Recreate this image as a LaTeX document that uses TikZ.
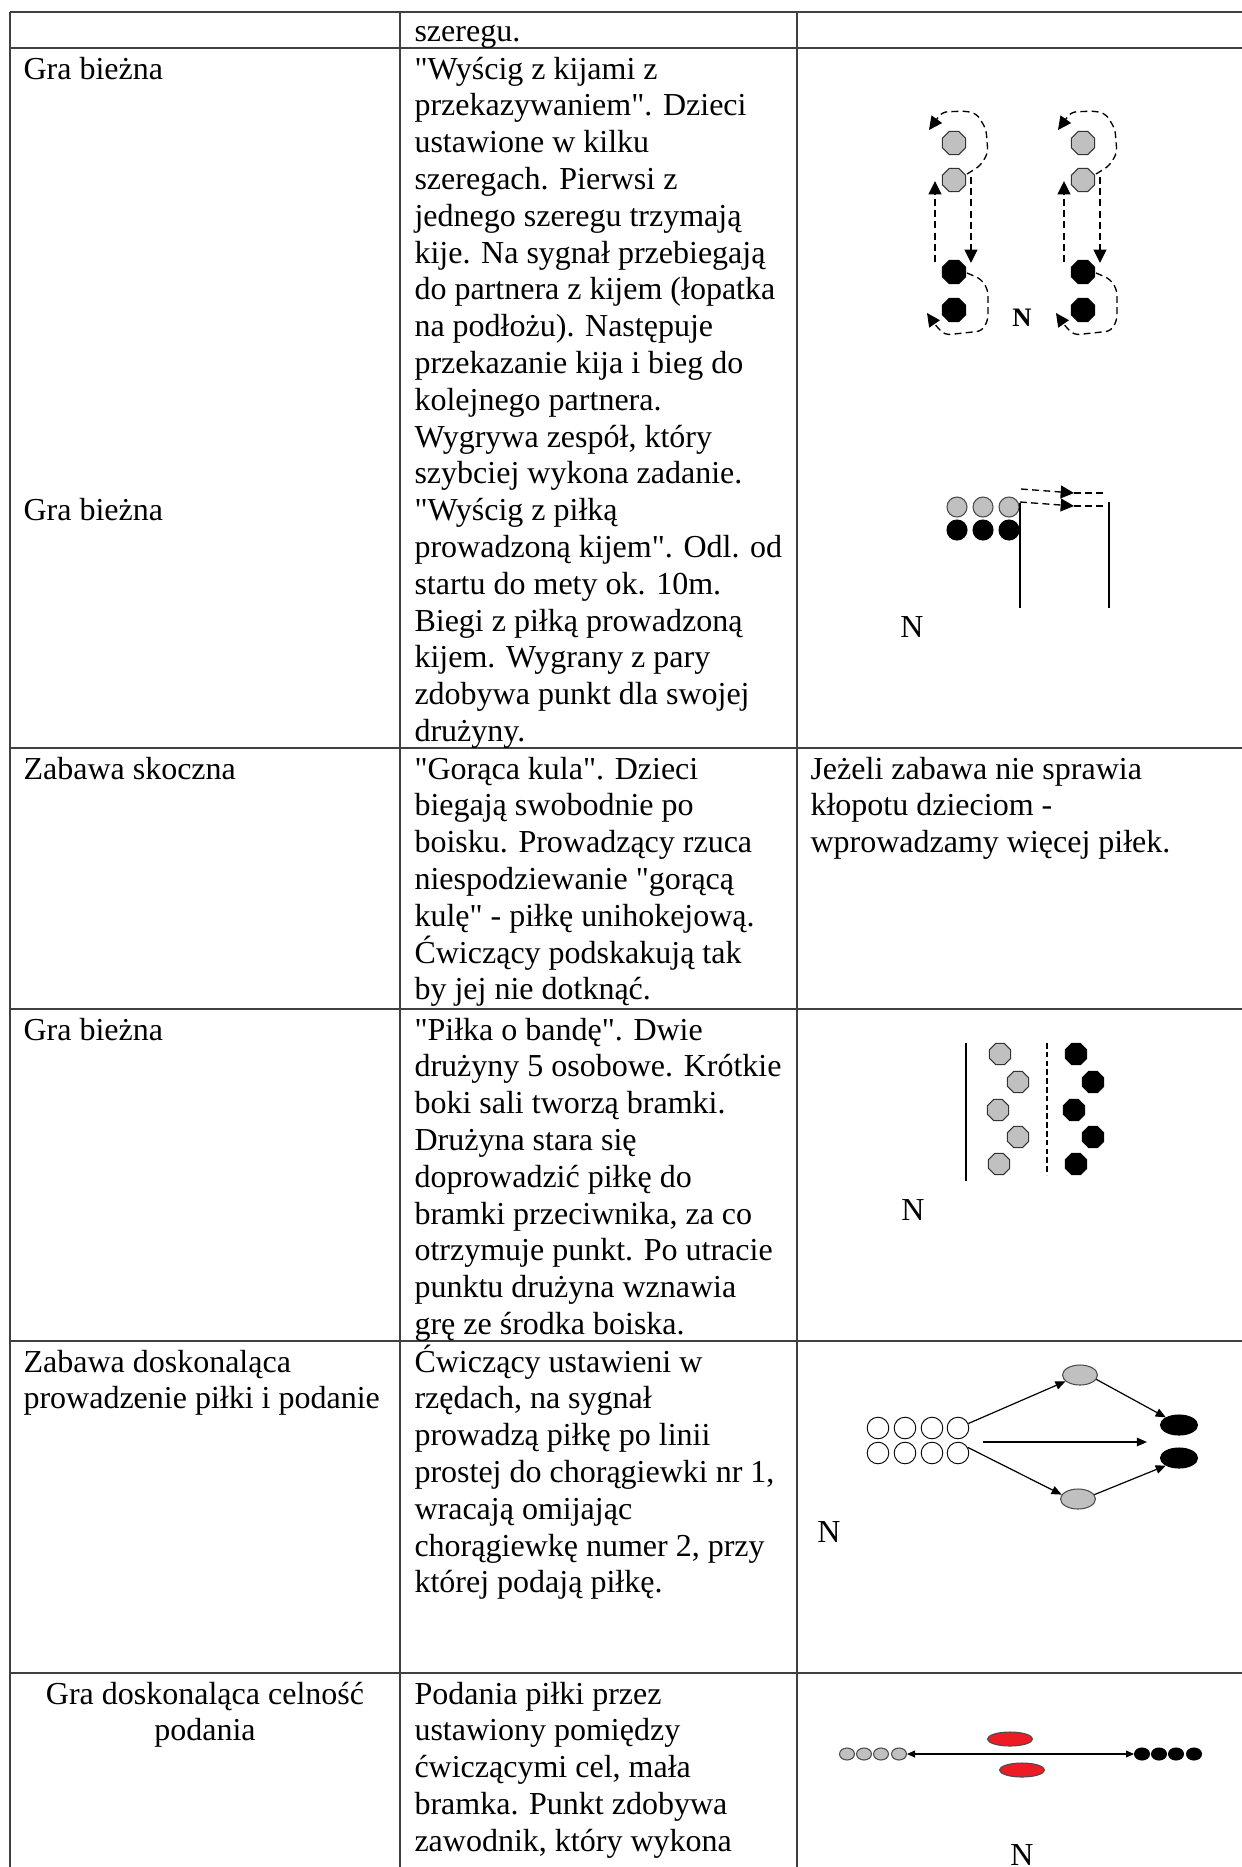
\documentclass[tikz,border=0pt]{standalone}
\usepackage{fontspec}
\setmainfont{Liberation Serif}[Ligatures=TeXOff]
\usetikzlibrary{shapes.geometric,arrows.meta}
\definecolor{silver}{HTML}{C0C0C0}
\definecolor{flagred}{HTML}{ED1C24}
\definecolor{rulegray}{HTML}{404040}
\newcommand\cellrows[1]{\vtop{\lineskiplimit=-\maxdimen\let\\\cr\halign{##\hfil\cr#1\crcr}}}
\newcommand\cellmid[1]{\vtop{\lineskiplimit=-\maxdimen\let\\\cr\halign{\hfil##\hfil\cr#1\crcr}}}
\tikzset{
  txt/.style={anchor=base west, inner sep=0pt, font=\fontsize{12}{13.8}\selectfont},
  gridline/.style={draw=rulegray, line width=0.55pt},
  octg/.style={regular polygon, regular polygon sides=8, draw=black!80, line width=0.4pt, fill=silver, minimum size=8.6pt, inner sep=0pt},
  octb/.style={octg, draw=black, fill=black},
  ballg/.style={circle, draw=black!70, line width=0.4pt, fill=silver, minimum size=7.5pt, inner sep=0pt},
  ballb/.style={ballg, draw=black, fill=black},
  ringw/.style={circle, draw=black, line width=0.35pt, minimum size=8.1pt, inner sep=0pt},
  flagg/.style={ellipse, draw=black!70, line width=0.4pt, fill=silver, minimum width=13.1pt, minimum height=7.5pt, inner sep=0pt},
  flagb/.style={flagg, draw=black, fill=black, minimum width=13.9pt},
  pawng/.style={ellipse, draw=black!70, line width=0.4pt, fill=silver, minimum width=5.6pt, minimum height=4.5pt, inner sep=0pt},
  pawnb/.style={pawng, draw=black, fill=black},
  goalr/.style={ellipse, draw=black!70, line width=0.4pt, fill=flagred, minimum width=16.9pt, minimum height=5.25pt, inner sep=0pt},
  runpath/.style={line width=0.5pt, dash pattern=on 2.6pt off 1.6pt, rounded corners=2pt},
  runarrow/.style={-{Triangle[length=5pt,width=4.8pt]}},
  passarrow/.style={line width=0.45pt, -{Triangle[length=3.8pt,width=3.2pt]}},
  side/.style={line width=0.5pt},
  midline/.style={line width=0.5pt, dash pattern=on 2.1pt off 1.2pt},
  letter/.style={inner sep=0pt, font=\fontsize{12}{13.8}\selectfont}
}
\begin{document}
\begin{tikzpicture}[x=0.375pt, y=-0.375pt]
  \useasboundingbox (0,0) rectangle (1241,1867);

  \draw[gridline] (10,12)   -- (1250,12);
  \draw[gridline] (10,48)   -- (1250,48);
  \draw[gridline] (10,748)  -- (1250,748);
  \draw[gridline] (10,1009) -- (1250,1009);
  \draw[gridline] (10,1341) -- (1250,1341);
  \draw[gridline] (10,1673) -- (1250,1673);
  \draw[gridline] (10,12)  -- (10,1880);
  \draw[gridline] (400,12) -- (400,1880);
  \draw[gridline] (797,12) -- (797,1880);

  \node[txt] (c12)  at (414,41) {szeregu.};

  \node[txt] (c21)  at (23,79)  {Gra bieżna};
  \node[txt] (c21b) at (23,520) {Gra bieżna};
  \node[txt] (c22)  at (414,79) {\cellrows{"Wyścig z kijami z\\przekazywaniem". Dzieci\\ustawione w kilku\\szeregach. Pierwsi z\\jednego szeregu trzymają\\kije. Na sygnał przebiegają\\do partnera z kijem (łopatka\\na podłożu). Następuje\\przekazanie kija i bieg do\\kolejnego partnera.\\Wygrywa zespół, który\\szybciej wykona zadanie.\\"Wyścig z piłką\\prowadzoną kijem". Odl. od\\startu do mety ok. 10m.\\Biegi z piłką prowadzoną\\kijem. Wygrany z pary\\zdobywa punkt dla swojej\\drużyny.}};

  \node[txt] (c31) at (23,779)  {Zabawa skoczna};
  \node[txt] (c32) at (414,779) {\cellrows{"Gorąca kula". Dzieci\\biegają swobodnie po\\boisku. Prowadzący rzuca\\niespodziewanie "gorącą\\kulę" - piłkę unihokejową.\\Ćwiczący podskakują tak\\by jej nie dotknąć.}};
  \node[txt] (c33) at (810,779) {\cellrows{Jeżeli zabawa nie sprawia\\kłopotu dzieciom -\\wprowadzamy więcej piłek.}};

  \node[txt] (c41) at (23,1040)  {Gra bieżna};
  \node[txt] (c42) at (414,1040) {\cellrows{"Piłka o bandę". Dwie\\drużyny 5 osobowe. Krótkie\\boki sali tworzą bramki.\\Drużyna stara się\\doprowadzić piłkę do\\bramki przeciwnika, za co\\otrzymuje punkt. Po utracie\\punktu drużyna wznawia\\grę ze środka boiska.}};

  \node[txt] (c51) at (23,1372)  {\cellrows{Zabawa doskonaląca\\prowadzenie piłki i podanie}};
  \node[txt] (c52) at (414,1372) {\cellrows{Ćwiczący ustawieni w\\rzędach, na sygnał\\prowadzą piłkę po linii\\prostej do chorągiewki nr 1,\\wracają omijając\\chorągiewkę numer 2, przy\\której podają piłkę.}};

  \node[txt, anchor=base] (c61) at (205,1704) {\cellmid{Gra doskonaląca celność\\podania}};
  \node[txt] (c62) at (414,1704) {\cellrows{Podania piłki przez\\ustawiony pomiędzy\\ćwiczącymi cel, mała\\bramka. Punkt zdobywa\\zawodnik, który wykona}};

  \node[octg, minimum size=9.4pt] (p1) at (954,143) {};
  \node[octg, minimum size=9.4pt] (p2) at (954,180) {};
  \node[octb, minimum size=9.4pt] (p3) at (954,272) {};
  \node[octb, minimum size=9.4pt] (p4) at (954,310) {};
  \node[octg, minimum size=9.4pt] (q1) at (1083,143) {};
  \node[octg, minimum size=9.4pt] (q2) at (1083,180) {};
  \node[octb, minimum size=9.4pt] (q3) at (1083,272) {};
  \node[octb, minimum size=9.4pt] (q4) at (1083,310) {};

  \draw[runpath, runarrow] (967,174) -- (980,166) -- (988,153) -- (986,129) -- (977,114) -- (966,111) -- (942,112) -- (929,130);
  \draw[runpath, runarrow] (971,177) -- (971,263);
  \draw[runpath, runarrow] (935,262) -- (935,181);
  \draw[runpath, runarrow] (967,273) -- (981,279) -- (988,290) -- (988,320) -- (982,331) -- (945,335) -- (936,326) -- (927,313);

  \draw[runpath, runarrow] (1096,174) -- (1109,166) -- (1117,153) -- (1115,129) -- (1106,114) -- (1095,111) -- (1071,112) -- (1058,130);
  \draw[runpath, runarrow] (1100,177) -- (1100,263);
  \draw[runpath, runarrow] (1064,262) -- (1064,181);
  \draw[runpath, runarrow] (1096,273) -- (1110,279) -- (1117,290) -- (1117,320) -- (1111,331) -- (1074,335) -- (1065,326) -- (1056,313);

  \node[letter, font=\fontsize{10}{12}\selectfont\bfseries] (na) at (1022,318) {N};

  \node[ballg] (s1) at (957,507) {};
  \node[ballg] (s2) at (983,507) {};
  \node[ballg] (s3) at (1009,507) {};
  \node[ballb] (t1) at (957,530) {};
  \node[ballb] (t2) at (983,530) {};
  \node[ballb] (t3) at (1009,530) {};

  \draw[side] (1020,503) -- (1020,608);
  \draw[side] (1109,502) -- (1109,608);
  \draw[runpath, runarrow] (1021,489) -- (1074,493);
  \draw[runpath] (1074,493) -- (1105,493);
  \draw[runpath, runarrow] (1020,502) -- (1074,506);
  \draw[runpath] (1074,506) -- (1108,506);

  \node[letter] (nb) at (912,627) {N};

  \draw[side] (966,1043) -- (966,1181);
  \draw[midline] (1047,1043) -- (1047,1175);

  \node[octg] (u1) at (1000,1054) {};
  \node[octg] (u2) at (1018,1082) {};
  \node[octg] (u3) at (998,1110) {};
  \node[octg] (u4) at (1018,1137) {};
  \node[octg] (u5) at (999,1164) {};
  \node[octb] (v1) at (1076,1054) {};
  \node[octb] (v2) at (1093,1082) {};
  \node[octb] (v3) at (1074,1110) {};
  \node[octb] (v4) at (1093,1137) {};
  \node[octb] (v5) at (1076,1164) {};

  \node[letter] (nc) at (913,1210) {N};

  \node[ringw] (w1) at (878,1428) {};
  \node[ringw] (w2) at (905,1428) {};
  \node[ringw] (w3) at (932,1428) {};
  \node[ringw] (w4) at (958,1428) {};
  \node[ringw] (w5) at (878,1453) {};
  \node[ringw] (w6) at (905,1453) {};
  \node[ringw] (w7) at (932,1453) {};
  \node[ringw] (w8) at (958,1453) {};

  \node[flagg] (f1) at (1080,1375) {};
  \node[flagg] (f2) at (1078,1499) {};
  \node[flagb] (k1) at (1179,1425) {};
  \node[flagb] (k2) at (1179,1458) {};

  \coordinate (m1) at (983,1442);
  \coordinate (m2) at (1147,1442);

  \draw[passarrow] (w4) -- (f1);
  \draw[passarrow] (f1.-15) -- (k1.150);
  \draw[passarrow] (m1) -- (m2);
  \draw[passarrow] (w8.30) -- (f2.165);
  \draw[passarrow] (f2.15) -- (k2.-150);

  \node[letter] (nd) at (829,1532) {N};

  \node[pawng] (g1) at (847,1754) {};
  \node[pawng] (g2) at (864,1754) {};
  \node[pawng] (g3) at (881,1754) {};
  \node[pawng] (g4) at (899,1754) {};
  \node[pawnb] (h1) at (1142,1754) {};
  \node[pawnb] (h2) at (1159,1754) {};
  \node[pawnb] (h3) at (1176,1754) {};
  \node[pawnb] (h4) at (1194,1754) {};

  \node[goalr] (r1) at (1010,1739) {};
  \node[goalr] (r2) at (1022,1770) {};

  \draw[line width=0.4pt, {Triangle[length=3pt,width=2.6pt]}-{Triangle[length=3pt,width=2.6pt]}] (g4) -- (h1);

  \node[letter] (ne) at (1022,1855) {N};
\end{tikzpicture}
\end{document}
